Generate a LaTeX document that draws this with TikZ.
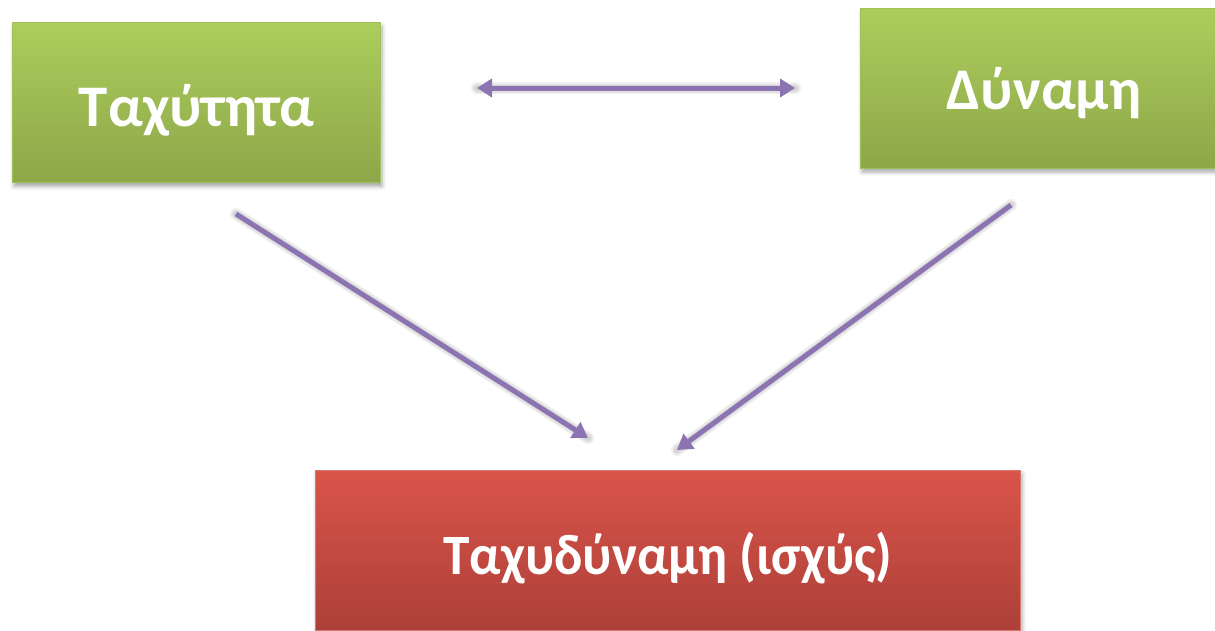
\documentclass[tikz,border=0pt]{standalone}
\usepackage{fontspec}
\setmainfont{Carlito}
\usetikzlibrary{arrows.meta,shadows.blur}

\definecolor{greenTop}{RGB}{172,205,92}
\definecolor{greenBot}{RGB}{141,167,73}
\definecolor{greenEdge}{RGB}{160,192,90}
\definecolor{redTop}{RGB}{218,84,74}
\definecolor{redBot}{RGB}{172,64,56}
\definecolor{redEdge}{RGB}{214,120,112}
\definecolor{linkPurple}{RGB}{140,116,178}

\tikzset{
  box/.style={draw, line width=0.8pt, inner sep=0pt,
    blur shadow={shadow xshift=2pt, shadow yshift=-4pt,
                 shadow blur radius=4pt, shadow opacity=35}},
  greenbox/.style={box, draw=greenEdge, top color=greenTop, bottom color=greenBot,
    minimum width=368pt, minimum height=160pt},
  redbox/.style={box, draw=redEdge, top color=redTop, bottom color=redBot,
    minimum width=705pt, minimum height=160pt},
  label/.style={anchor=base, text=white, font=\fontsize{59}{70}\selectfont\bfseries, inner sep=0pt},
  tip/.tip={Triangle[width=18pt,length=15pt]},
  link/.style={draw=linkPurple, line width=5pt, -tip},
  duallink/.style={link, tip-tip},
  % soft drop shadow under a connector
  linkshadow/.style={draw=black, line width=#1, draw opacity=0.06, line cap=round,
    shift={(2pt,-3pt)}},
}

\begin{document}
\begin{tikzpicture}[x=1pt,y=-1pt]
  \useasboundingbox (0,0) rectangle (1215,630);

  % boxes
  \node[greenbox] (speed) at (196,102.5) {};
  \node[greenbox] (force) at (1044,88) {};
  \node[redbox]   (power) at (667.5,550) {};

  % captions
  \node[label] (speedtxt) at (196.5,126) {Ταχύτητα};
  \node[label] (forcetxt) at (1044,109.5) {Δύναμη};
  \node[label, font=\fontsize{57}{68}\selectfont\bfseries] (powertxt) at (668,574)
    {\scalebox{0.935}[1]{Ταχυδύναμη (ισχύς)}};

  % connector ends
  \coordinate (sf1) at (477,88);
  \coordinate (sf2) at (795,88);
  \coordinate (sp1) at (236,214);
  \coordinate (sp2) at (588,438);
  \coordinate (fp1) at (1011,205);
  \coordinate (fp2) at (677,450);

  % connector shadows
  \foreach \w in {6pt,9pt,12pt}{
    \draw[linkshadow=\w] (sf1) -- (sf2);
    \draw[linkshadow=\w] (sp1) -- (sp2);
    \draw[linkshadow=\w] (fp1) -- (fp2);
  }

  % connectors
  \draw[duallink] (sf1) -- (sf2);
  \draw[link] (sp1) -- (sp2);
  \draw[link] (fp1) -- (fp2);
\end{tikzpicture}
\end{document}
